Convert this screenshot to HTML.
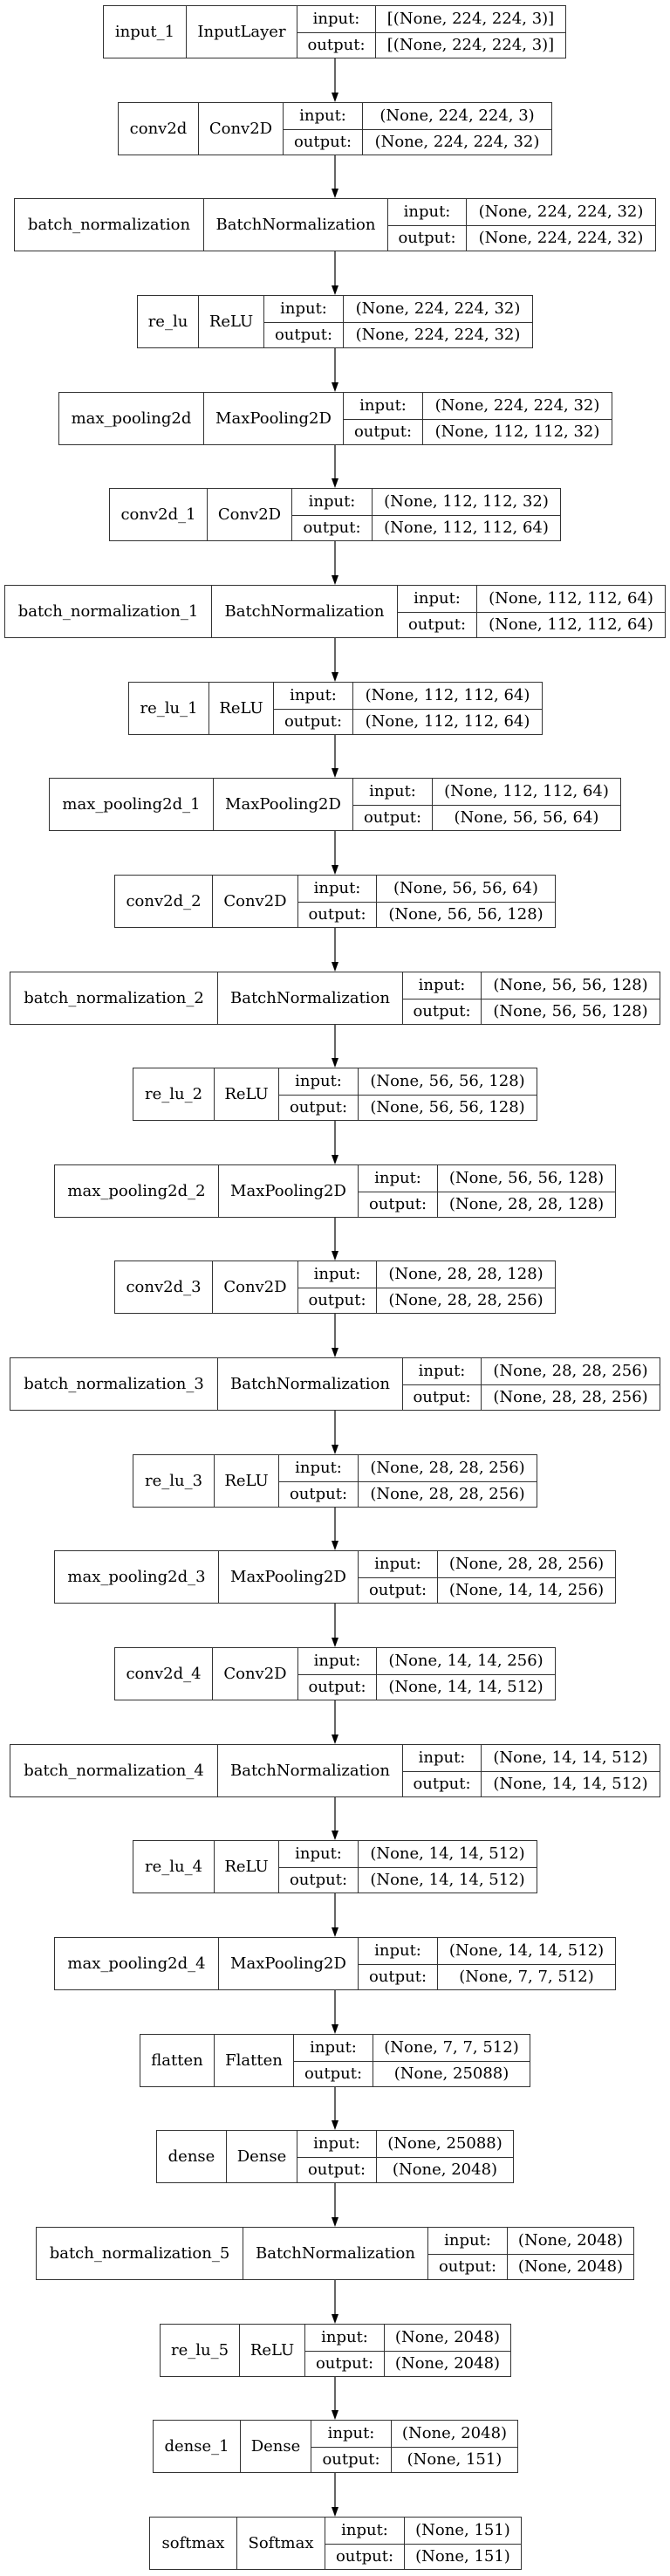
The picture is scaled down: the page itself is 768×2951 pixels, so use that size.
<!DOCTYPE html>
<html><head><meta charset="utf-8"><style>
html,body{margin:0;padding:0;background:#fff;}
body{width:768px;height:2951px;position:relative;overflow:hidden;font-family:"DejaVu Serif","Liberation Serif",serif;font-size:18px;color:#000;}
.n{position:absolute;height:61px;box-sizing:border-box;border:1.5px solid #333;display:grid;grid-template-rows:1fr 1fr;}
.n>div{display:flex;align-items:center;justify-content:center;white-space:nowrap;box-sizing:border-box;}
.a{grid-row:1/3;}
.b{grid-row:1/3;border-left:1.3px solid #333;}
.p{border-left:1.3px solid #333;}
.q{border-left:1.3px solid #333;border-top:1.3px solid #333;}
svg{position:absolute;left:0;top:0;}
</style></head><body>
<svg width="768" height="2951">
<g stroke="#333" stroke-width="1.5">
<line x1="384" y1="67" x2="384" y2="106"/><line x1="384" y1="178" x2="384" y2="216"/><line x1="384" y1="288" x2="384" y2="327"/><line x1="384" y1="399" x2="384" y2="438"/><line x1="384" y1="510" x2="384" y2="548"/><line x1="384" y1="620" x2="384" y2="659"/><line x1="384" y1="731" x2="384" y2="770"/><line x1="384" y1="842" x2="384" y2="880"/><line x1="384" y1="952" x2="384" y2="991"/><line x1="384" y1="1063" x2="384" y2="1102"/><line x1="384" y1="1174" x2="384" y2="1212"/><line x1="384" y1="1284" x2="384" y2="1323"/><line x1="384" y1="1395" x2="384" y2="1433"/><line x1="384" y1="1505" x2="384" y2="1544"/><line x1="384" y1="1616" x2="384" y2="1655"/><line x1="384" y1="1727" x2="384" y2="1765"/><line x1="384" y1="1837" x2="384" y2="1876"/><line x1="384" y1="1948" x2="384" y2="1987"/><line x1="384" y1="2059" x2="384" y2="2097"/><line x1="384" y1="2169" x2="384" y2="2208"/><line x1="384" y1="2280" x2="384" y2="2319"/><line x1="384" y1="2391" x2="384" y2="2429"/><line x1="384" y1="2501" x2="384" y2="2540"/><line x1="384" y1="2612" x2="384" y2="2651"/><line x1="384" y1="2723" x2="384" y2="2761"/><line x1="384" y1="2833" x2="384" y2="2872"/>
</g>
<g fill="#000">
<polygon points="380,106 388,106 384,117"/><polygon points="380,216 388,216 384,227"/><polygon points="380,327 388,327 384,338"/><polygon points="380,438 388,438 384,449"/><polygon points="380,548 388,548 384,559"/><polygon points="380,659 388,659 384,670"/><polygon points="380,770 388,770 384,781"/><polygon points="380,880 388,880 384,891"/><polygon points="380,991 388,991 384,1002"/><polygon points="380,1102 388,1102 384,1113"/><polygon points="380,1212 388,1212 384,1223"/><polygon points="380,1323 388,1323 384,1334"/><polygon points="380,1433 388,1433 384,1444"/><polygon points="380,1544 388,1544 384,1555"/><polygon points="380,1655 388,1655 384,1666"/><polygon points="380,1765 388,1765 384,1776"/><polygon points="380,1876 388,1876 384,1887"/><polygon points="380,1987 388,1987 384,1998"/><polygon points="380,2097 388,2097 384,2108"/><polygon points="380,2208 388,2208 384,2219"/><polygon points="380,2319 388,2319 384,2330"/><polygon points="380,2429 388,2429 384,2440"/><polygon points="380,2540 388,2540 384,2551"/><polygon points="380,2651 388,2651 384,2662"/><polygon points="380,2761 388,2761 384,2772"/><polygon points="380,2872 388,2872 384,2883"/>
</g>
</svg>

<div class="n" style="left:118px;top:6px;width:531px;grid-template-columns:94px 127px 90px 1fr"><div class="a">input_1</div><div class="b">InputLayer</div><div class="p">input:</div><div class="p">[(None, 224, 224, 3)]</div><div class="q">output:</div><div class="q">[(None, 224, 224, 3)]</div></div>

<div class="n" style="left:135px;top:117px;width:498px;grid-template-columns:91px 97px 91px 1fr"><div class="a">conv2d</div><div class="b">Conv2D</div><div class="p">input:</div><div class="p">(None, 224, 224, 3)</div><div class="q">output:</div><div class="q">(None, 224, 224, 32)</div></div>

<div class="n" style="left:16px;top:227px;width:736px;grid-template-columns:216px 211px 90px 1fr"><div class="a">batch_normalization</div><div class="b">BatchNormalization</div><div class="p">input:</div><div class="p">(None, 224, 224, 32)</div><div class="q">output:</div><div class="q">(None, 224, 224, 32)</div></div>

<div class="n" style="left:157px;top:338px;width:454px;grid-template-columns:69px 75px 91px 1fr"><div class="a">re_lu</div><div class="b">ReLU</div><div class="p">input:</div><div class="p">(None, 224, 224, 32)</div><div class="q">output:</div><div class="q">(None, 224, 224, 32)</div></div>

<div class="n" style="left:67px;top:449px;width:635px;grid-template-columns:165px 160px 91px 1fr"><div class="a">max_pooling2d</div><div class="b">MaxPooling2D</div><div class="p">input:</div><div class="p">(None, 224, 224, 32)</div><div class="q">output:</div><div class="q">(None, 112, 112, 32)</div></div>

<div class="n" style="left:125px;top:559px;width:518px;grid-template-columns:111px 97px 92px 1fr"><div class="a">conv2d_1</div><div class="b">Conv2D</div><div class="p">input:</div><div class="p">(None, 112, 112, 32)</div><div class="q">output:</div><div class="q">(None, 112, 112, 64)</div></div>

<div class="n" style="left:5px;top:670px;width:758px;grid-template-columns:236px 213px 91px 1fr"><div class="a">batch_normalization_1</div><div class="b">BatchNormalization</div><div class="p">input:</div><div class="p">(None, 112, 112, 64)</div><div class="q">output:</div><div class="q">(None, 112, 112, 64)</div></div>

<div class="n" style="left:147px;top:781px;width:475px;grid-template-columns:91px 74px 91px 1fr"><div class="a">re_lu_1</div><div class="b">ReLU</div><div class="p">input:</div><div class="p">(None, 112, 112, 64)</div><div class="q">output:</div><div class="q">(None, 112, 112, 64)</div></div>

<div class="n" style="left:56px;top:891px;width:656px;grid-template-columns:187px 160px 91px 1fr"><div class="a">max_pooling2d_1</div><div class="b">MaxPooling2D</div><div class="p">input:</div><div class="p">(None, 112, 112, 64)</div><div class="q">output:</div><div class="q">(None, 56, 56, 64)</div></div>

<div class="n" style="left:131px;top:1002px;width:506px;grid-template-columns:111px 98px 90px 1fr"><div class="a">conv2d_2</div><div class="b">Conv2D</div><div class="p">input:</div><div class="p">(None, 56, 56, 64)</div><div class="q">output:</div><div class="q">(None, 56, 56, 128)</div></div>

<div class="n" style="left:11px;top:1113px;width:746px;grid-template-columns:237px 212px 90px 1fr"><div class="a">batch_normalization_2</div><div class="b">BatchNormalization</div><div class="p">input:</div><div class="p">(None, 56, 56, 128)</div><div class="q">output:</div><div class="q">(None, 56, 56, 128)</div></div>

<div class="n" style="left:152px;top:1223px;width:464px;grid-template-columns:92px 74px 91px 1fr"><div class="a">re_lu_2</div><div class="b">ReLU</div><div class="p">input:</div><div class="p">(None, 56, 56, 128)</div><div class="q">output:</div><div class="q">(None, 56, 56, 128)</div></div>

<div class="n" style="left:62px;top:1334px;width:644px;grid-template-columns:187px 160px 91px 1fr"><div class="a">max_pooling2d_2</div><div class="b">MaxPooling2D</div><div class="p">input:</div><div class="p">(None, 56, 56, 128)</div><div class="q">output:</div><div class="q">(None, 28, 28, 128)</div></div>

<div class="n" style="left:131px;top:1444px;width:506px;grid-template-columns:111px 98px 90px 1fr"><div class="a">conv2d_3</div><div class="b">Conv2D</div><div class="p">input:</div><div class="p">(None, 28, 28, 128)</div><div class="q">output:</div><div class="q">(None, 28, 28, 256)</div></div>

<div class="n" style="left:11px;top:1555px;width:746px;grid-template-columns:237px 212px 90px 1fr"><div class="a">batch_normalization_3</div><div class="b">BatchNormalization</div><div class="p">input:</div><div class="p">(None, 28, 28, 256)</div><div class="q">output:</div><div class="q">(None, 28, 28, 256)</div></div>

<div class="n" style="left:152px;top:1666px;width:464px;grid-template-columns:92px 74px 91px 1fr"><div class="a">re_lu_3</div><div class="b">ReLU</div><div class="p">input:</div><div class="p">(None, 28, 28, 256)</div><div class="q">output:</div><div class="q">(None, 28, 28, 256)</div></div>

<div class="n" style="left:62px;top:1776px;width:644px;grid-template-columns:187px 160px 91px 1fr"><div class="a">max_pooling2d_3</div><div class="b">MaxPooling2D</div><div class="p">input:</div><div class="p">(None, 28, 28, 256)</div><div class="q">output:</div><div class="q">(None, 14, 14, 256)</div></div>

<div class="n" style="left:131px;top:1887px;width:506px;grid-template-columns:111px 98px 90px 1fr"><div class="a">conv2d_4</div><div class="b">Conv2D</div><div class="p">input:</div><div class="p">(None, 14, 14, 256)</div><div class="q">output:</div><div class="q">(None, 14, 14, 512)</div></div>

<div class="n" style="left:11px;top:1998px;width:746px;grid-template-columns:237px 212px 90px 1fr"><div class="a">batch_normalization_4</div><div class="b">BatchNormalization</div><div class="p">input:</div><div class="p">(None, 14, 14, 512)</div><div class="q">output:</div><div class="q">(None, 14, 14, 512)</div></div>

<div class="n" style="left:152px;top:2108px;width:464px;grid-template-columns:92px 74px 91px 1fr"><div class="a">re_lu_4</div><div class="b">ReLU</div><div class="p">input:</div><div class="p">(None, 14, 14, 512)</div><div class="q">output:</div><div class="q">(None, 14, 14, 512)</div></div>

<div class="n" style="left:62px;top:2219px;width:644px;grid-template-columns:187px 160px 91px 1fr"><div class="a">max_pooling2d_4</div><div class="b">MaxPooling2D</div><div class="p">input:</div><div class="p">(None, 14, 14, 512)</div><div class="q">output:</div><div class="q">(None, 7, 7, 512)</div></div>

<div class="n" style="left:160px;top:2330px;width:448px;grid-template-columns:84px 91px 91px 1fr"><div class="a">flatten</div><div class="b">Flatten</div><div class="p">input:</div><div class="p">(None, 7, 7, 512)</div><div class="q">output:</div><div class="q">(None, 25088)</div></div>

<div class="n" style="left:179px;top:2440px;width:410px;grid-template-columns:79px 81px 91px 1fr"><div class="a">dense</div><div class="b">Dense</div><div class="p">input:</div><div class="p">(None, 25088)</div><div class="q">output:</div><div class="q">(None, 2048)</div></div>

<div class="n" style="left:41px;top:2551px;width:686px;grid-template-columns:236px 212px 91px 1fr"><div class="a">batch_normalization_5</div><div class="b">BatchNormalization</div><div class="p">input:</div><div class="p">(None, 2048)</div><div class="q">output:</div><div class="q">(None, 2048)</div></div>

<div class="n" style="left:183px;top:2662px;width:403px;grid-template-columns:90px 75px 91px 1fr"><div class="a">re_lu_5</div><div class="b">ReLU</div><div class="p">input:</div><div class="p">(None, 2048)</div><div class="q">output:</div><div class="q">(None, 2048)</div></div>

<div class="n" style="left:175px;top:2772px;width:419px;grid-template-columns:99px 81px 92px 1fr"><div class="a">dense_1</div><div class="b">Dense</div><div class="p">input:</div><div class="p">(None, 2048)</div><div class="q">output:</div><div class="q">(None, 151)</div></div>

<div class="n" style="left:171px;top:2883px;width:427px;grid-template-columns:99px 101px 91px 1fr"><div class="a">softmax</div><div class="b">Softmax</div><div class="p">input:</div><div class="p">(None, 151)</div><div class="q">output:</div><div class="q">(None, 151)</div></div>
</body></html>
